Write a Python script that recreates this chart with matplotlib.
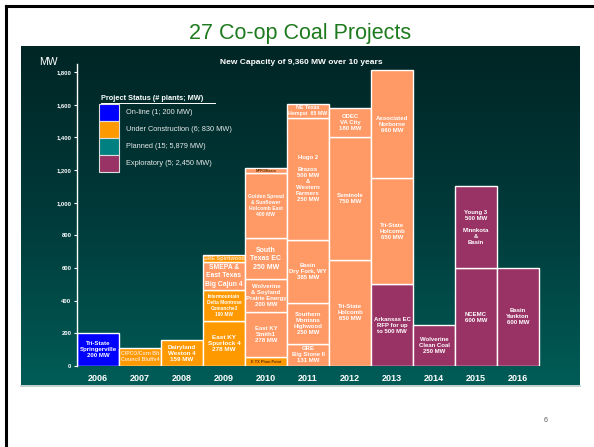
import numpy as np
import matplotlib
matplotlib.use("Agg")
import matplotlib.pyplot as plt
from matplotlib.colors import LinearSegmentedColormap
from matplotlib.patches import Rectangle
from matplotlib.lines import Line2D

plt.rcParams['font.family'] = ['Liberation Sans', 'DejaVu Sans']

# Data
years = ["2006", "2007", "2008", "2009", "2010", "2011",
         "2012", "2013", "2014", "2015", "2016"]

# one entry per stacked block, bottom to top within each year
seg_year = [0, 1, 2,
            3, 3, 3, 3,
            4, 4, 4, 4, 4, 4,
            5, 5, 5, 5, 5,
            6, 6, 6,
            7, 7, 7,
            8,
            9, 9,
            10]
seg_mw = [200, 112, 159,
          278, 190, 167, 47,
          53, 278, 200, 250, 400, 30,
          135, 250, 385, 750, 85,
          650, 750, 180,
          500, 650, 660,
          250,
          600, 500,
          600]
seg_status = ["online", "uc", "uc",
              "uc", "uc", "planned", "uc",
              "uc", "planned", "planned", "planned", "planned", "planned",
              "planned", "planned", "planned", "planned", "planned",
              "planned", "planned", "planned",
              "expl", "planned", "planned",
              "expl",
              "expl", "expl",
              "expl"]
seg_label = ["Tri-State\nSpringerville\n200 MW",
             "CIPCO/Corn Blt\nCouncil Bluffs4",
             "Dairyland\nWeston 4\n159 MW",
             "East KY\nSpurlock 4\n278 MW",
             "Intermountain\nDelta Montrose\nComanche3\n190 MW",
             "SMEPA &\nEast Texas\nBig Cajun 4",
             "GRE Spiritwood",
             "E TX Plum Point",
             "East KY\nSmith1\n278 MW",
             "Wolverine\n& Soyland\nPrairie Energy\n200 MW",
             "South\nTexas EC\n250 MW",
             "Golden Spread\n& Sunflower\nHolcomb East\n400 MW",
             "NPPD/Basin",
             "GRE\nBig Stone II\n131 MW",
             "Southern\nMontana\nHighwood\n250 MW",
             "Basin\nDry Fork, WY\n385 MW",
             "Hugo 2\n\nBrazos\n500 MW\n&\nWestern\nFarmers\n250 MW",
             "NE Texas\nHempst  65 MW",
             "Tri-State\nHolcomb\n650 MW",
             "Seminole\n750 MW",
             "ODEC\nVA City\n180 MW",
             "Arkansas EC\nRFP for up\nto 500 MW",
             "Tri-State\nHolcomb\n650 MW",
             "Associated\nNorborne\n660 MW",
             "Wolverine\nClean Coal\n250 MW",
             "NCEMC\n600 MW",
             "Young 3\n500 MW\n\nMinnkota\n&\nBasin",
             "Basin\nYankton\n600 MW"]

legend_labels = ["On-line (1; 200 MW)",
                 "Under Construction (6; 830 MW)",
                 "Planned (15; 5,879 MW)",
                 "Exploratory (5; 2,450 MW)"]

yticks = [0, 200, 400, 600, 800, 1000, 1200, 1400, 1600, 1800]

# Styles
bar_colors = {"online": "#0000FF", "uc": "#FF9900",
              "planned": "#FF9966", "expl": "#993366"}
legend_colors = ["#0000FF", "#FF9900", "#008080", "#993366"]
label_size = {0: 4.4, 2: 4.5, 3: 4.6, 5: 4.9, 10: 5, 1: 3.7, 4: 3.4,
              6: 4.0, 7: 2.8, 11: 3.6, 12: 2.6, 17: 3.8}
label_color = {1: "#FFE3C8", 6: "#FFE3C8", 7: "#663300", 12: "#663300"}

W, H = 594, 447
fig = plt.figure(figsize=(W / 100, H / 100), dpi=100)


def fx(x):
    return x / W


def fy(y):
    return 1 - y / H


# slide border
fig.add_artist(Line2D([fx(6), fx(6)], [fy(6), fy(447)], color="black", lw=2.2))
fig.add_artist(Line2D([fx(6), fx(594)], [fy(6), fy(6)], color="black", lw=2.2))

fig.text(fx(300), fy(34), "27 Co-op Coal Projects", color="#1E7A1E",
         fontsize=15.5, ha="center", va="center")

# dark gradient panel
px0, px1, py0, py1 = 21, 580, 46, 385
bg = fig.add_axes([fx(px0), fy(py1), fx(px1 - px0), (py1 - py0) / H])
cmap = LinearSegmentedColormap.from_list("bg", ["#002525", "#003a3a", "#005c57"])
bg.imshow(np.linspace(0, 1, 256).reshape(-1, 1), cmap=cmap, aspect="auto")
bg.axis("off")
fig.add_artist(Line2D([fx(px0), fx(px1)], [fy(386), fy(386)], color="#B8C8C8", lw=1.2))

# main axes
ax_l, ax_r, ax_b, ax_t = 77, 580, 366, 50
ax = fig.add_axes([fx(ax_l), fy(ax_b), fx(ax_r - ax_l), (ax_b - ax_t) / H])
ax.set_facecolor("none")
bw = 42.0
ax.set_xlim(-0.5, -0.5 + (ax_r - ax_l) / bw)
ymax = (ax_b - ax_t) / ((366 - 72) / 1800)
ax.set_ylim(0, ymax)

bottoms = np.zeros(len(years))
for i in range(len(seg_mw)):
    yi = seg_year[i]
    b = bottoms[yi]
    ax.bar(yi, seg_mw[i], bottom=b, width=1.0,
           color=bar_colors[seg_status[i]], edgecolor="white", linewidth=1.0)
    ax.text(yi, b + seg_mw[i] / 2, seg_label[i], ha="center", va="center",
            color=label_color.get(i, "white"), fontsize=label_size.get(i, 4.3),
            fontweight="bold", linespacing=1.25)
    bottoms[yi] += seg_mw[i]

for s in ["top", "right", "bottom"]:
    ax.spines[s].set_visible(False)
ax.spines["left"].set_color("white")
ax.spines["left"].set_linewidth(1.0)
ax.spines["left"].set_bounds(0, 1850)

ax.set_yticks(yticks)
ax.set_yticklabels([f"{v:,}" for v in yticks])
ax.tick_params(axis="y", colors="white", length=2, width=0.8, pad=2,
               labelsize=4.2)
for t in ax.get_yticklabels():
    t.set_fontweight("bold")

ax.set_xticks(range(len(years)))
ax.set_xticklabels(years)
ax.tick_params(axis="x", length=0, pad=5.5, labelsize=6.5, labelcolor="white")
for t in ax.get_xticklabels():
    t.set_fontweight("bold")

fig.text(fx(48), fy(62), "MW", color="white", fontsize=7.5, ha="center", va="center")
fig.text(fx(301), fy(62), "New Capacity of 9,360 MW over 10 years", color="white",
         fontsize=6.0, fontweight="bold", ha="center", va="center")

# legend
fig.text(fx(101), fy(98), "Project Status (# plants; MW)", color="white",
         fontsize=5.3, fontweight="bold", ha="left", va="center")
fig.add_artist(Line2D([fx(101), fx(215)], [fy(102.5), fy(102.5)], color="white", lw=0.7))
for k in range(len(legend_labels)):
    top = 104 + 17 * k
    fig.add_artist(Rectangle((fx(99), fy(top + 17)), fx(20), 17 / H,
                             facecolor=legend_colors[k], edgecolor="#DDDDDD", lw=0.8))
    fig.text(fx(126), fy(top + 8.5), legend_labels[k], color="#E8E8E8",
             fontsize=5.3, ha="left", va="center")

fig.text(fx(546), fy(421), "6", color="#555555", fontsize=5, ha="center", va="center")

fig.savefig("out.png", dpi=100)
